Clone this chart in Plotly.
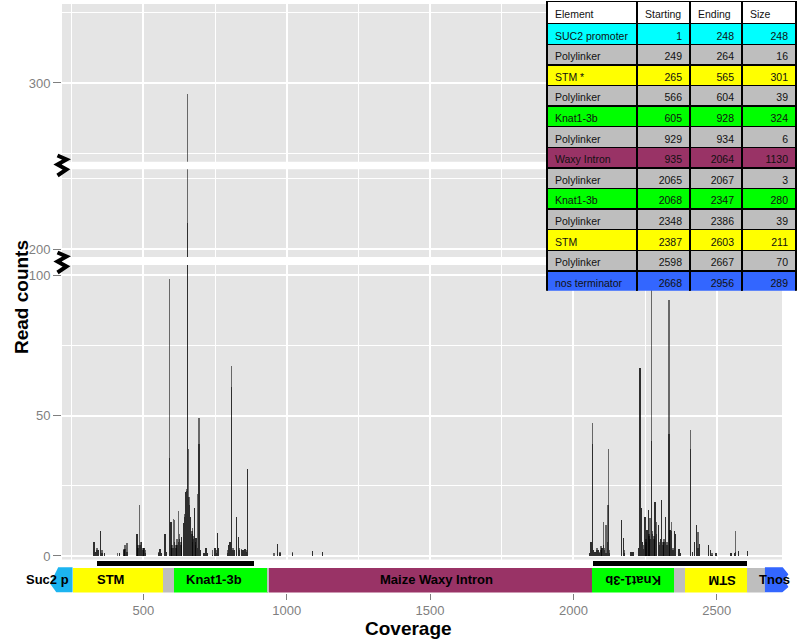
import plotly.graph_objects as go

# ---------------- data ----------------
# coverage (read counts) per position, two overlaid samples
pos_left = [328,333,339,344,350,355,364,410,417,432,436,443,478,482,486,490,494,499,503,508,
            553,558,563,575,580,592,596,600,605,609,614,618,622,627,631,634,640,644,647,650,
            654,658,661,665,669,672,675,678,681,684,688,694,700,712,718,724,742,750,755,759,
            763,794,797,802,807,812,818,825,831,836,842,848,854,859,863,956,968,977,1021,1089,1124]
reads_a_left = [5,1.5,3,2,9,2,1,1,1,2.5,3.8,4.5,7.8,4,18,5,5,3,2.9,2,
                1.5,2.6,1,7.8,1.5,98.6,12.2,4,13,12.8,4,6,16,8,5,6.9,11.7,15,22.9,24,
                296,38,21,13.9,9,10,7,17,5,6.4,22,49,2,1,2.7,1,2,3,2,8.2,
                2.7,2,3.9,5,67.5,3,2,13.9,6.9,3,2.5,2,2.5,2,30.9,1,4.2,1.5,1.5,1.9,1.5]
reads_b_left = [5,1.5,2,2,9,1,1,0,1,2,2.6,1.5,7.8,3,3.8,4,4.9,2,2.9,1,
                1,2.6,1,7.8,1.5,35,12.2,3,3,5,3,4,5,6,4,6.9,11.7,14,22.9,23,
                209,21,18,13.9,8,5,6,17,4,6.4,3,40,2,1,2.7,1,0.5,3,1,8.2,
                2.7,1,3.9,5,60,2,2,13.9,6.9,2,2,2,2.5,1.5,30.9,0,4.2,1,1,1.9,1.5]

pos_right = [2057,2061,2066,2071,2076,2082,2087,2091,2096,2099,2104,2108,2113,2118,2122,2126,2168,2174,2178,2200,
             2205,2210,2228,2232,2238,2241,2244,2250,2253,2256,2261,2264,2267,2272,2276,2281,2285,2290,2296,2300,
             2304,2308,2312,2316,2322,2327,2334,2337,2343,2348,2353,2357,2369,2374,2409,2416,2422,2429,2435,2439,
             2471,2479,2484,2497,2547,2551,2561,2566,2575,2608]
reads_a_right = [1,5,47.2,2,1.5,3,2,1.5,3.6,2.8,12,3,11,18,38,2,12.7,6.4,2,1.5,
                 1.5,1.5,3,67,17,5,4,13.8,6,9.3,16.4,8,13.4,105,9,7,19.3,12,11,5,
                 6,20,5,6,14,5,91,9.3,12,3,9,7.7,2.5,1,45,1.5,5,11,8.4,4.3,
                 4,2,1,1,1,1,1,9,1.6,1.9]
reads_b_right = [1,5,40,2,1.5,2,2,1,2,2.8,4,2,1.2,5,18,1,12.7,6.4,1,1.5,
                 1.5,1.5,3,67,17,5,2.5,13.8,5,9.3,16.4,7,6,41,8,6,19.3,8,11,4,
                 6,20,4,5,14,4,43.4,9.3,9,2,9,7.7,2.5,1,38,1.5,5,11,3,4.3,
                 4,2,0.5,1,1,1,1,1.5,1.6,1.9]

# table of construct elements
elements = ["SUC2 promoter","Polylinker","STM *","Polylinker","Knat1-3b","Polylinker","Waxy Intron",
            "Polylinker","Knat1-3b","Polylinker","STM","Polylinker","nos terminator"]
starting = [1,249,265,566,605,929,935,2065,2068,2348,2387,2598,2668]
ending = [248,264,565,604,928,934,2064,2067,2347,2386,2603,2667,2956]
size = [248,16,301,39,324,6,1130,3,280,39,211,70,289]
row_colors = ["#00FFFF","#BEBEBE","#FFFF00","#BEBEBE","#00FF00","#BEBEBE","#993366",
              "#BEBEBE","#00FF00","#BEBEBE","#FFFF00","#BEBEBE","#3366FF"]

# gene map below the axis
map_start = [253,567,606,934,939,2066,2350,2388,2604]
map_end = [567,606,934,939,2066,2350,2388,2604,2668]
map_colors = ["#FFFF00","#BEBEBE","#00FF00","#BEBEBE","#993366","#00FF00","#BEBEBE","#FFFF00","#BEBEBE"]
suc2_start, suc2_end = 175, 253
tnos_start, tnos_end = 2668, 2750
map_labels = ["Suc2 p","STM","Knat1-3b","Maize Waxy Intron","Knat1-3b","STM","Tnos"]
map_label_x = [167,387,745,1521,2206,2518,2703]
map_label_flip = [False,False,False,False,True,True,False]
probe_start = [339,2069]
probe_end = [886,2604]

x_ticks = [500,1000,1500,2000,2500]
x_minor = [250,750,1250,1750,2250,2750]

# ---------------- layout helpers ----------------
W, H = 797, 641
def fx(px): return px / W
def fy(py): return 1 - py / H

PXU = 0.2867  # pixels per coverage unit
GRID = "#FFFFFF"
PANEL = "#E5E5E5"
TICKC = "#7F7F7F"
FONT = "Liberation Sans, Arial"

fig = go.Figure()

pos = pos_left + pos_right
reads_a = reads_a_left + reads_a_right
reads_b = reads_b_left + reads_b_right

for yax in ["y", "y2", "y3"]:
    for vals in (reads_a, reads_b):
        fig.add_trace(go.Bar(x=pos, y=vals, width=5, xaxis="x", yaxis=yax,
                             marker=dict(color="rgba(0,0,0,0.55)", line=dict(width=0)),
                             showlegend=False, hoverinfo="x+y"))

# gene map blocks
fig.add_trace(go.Bar(orientation="h", base=map_start,
                     x=[e - s for s, e in zip(map_start, map_end)],
                     y=[0.5] * len(map_start), width=1, xaxis="x2", yaxis="y4",
                     marker=dict(color=map_colors, line=dict(width=0)), showlegend=False))
# probe / amplicon bars
fig.add_trace(go.Bar(orientation="h", base=probe_start,
                     x=[e - s for s, e in zip(probe_start, probe_end)],
                     y=[1.19] * len(probe_start), width=0.2, xaxis="x2", yaxis="y4",
                     marker=dict(color="#000000", line=dict(width=0)), showlegend=False))
# Suc2 p arrow-like block
s, e = suc2_start, suc2_end
fig.add_trace(go.Scatter(x=[e, e, s + 28, s + 10, s, s + 22, e],
                         y=[0, 1, 1, 0.62, 0.35, 0, 0], fill="toself", mode="lines",
                         line=dict(width=0), fillcolor="#1CB4F0", xaxis="x2", yaxis="y4",
                         showlegend=False, hoverinfo="skip"))
# Tnos block with notched end
s, e = tnos_start, tnos_end
fig.add_trace(go.Scatter(x=[s, s, e - 20, e, e - 14, e, e - 22, s],
                         y=[0, 1, 1, 0.72, 0.5, 0.22, 0, 0], fill="toself", mode="lines",
                         line=dict(width=0), fillcolor="#3366FF", xaxis="x2", yaxis="y4",
                         showlegend=False, hoverinfo="skip"))

# table
tfont = dict(family=FONT, size=10.5, color="#111111")
fig.add_trace(go.Table(
    domain=dict(x=[fx(547), fx(796)], y=[fy(291), fy(1.7)]),
    columnwidth=[90, 53, 52, 54],
    header=dict(values=["Element", "Starting", "Ending", "Size"],
                fill_color="white", line=dict(color="black", width=1.5),
                align="left", font=tfont, height=22),
    cells=dict(values=[[t.replace(" ", "\u00a0") for t in elements], starting, ending, size],
               fill_color=[row_colors] * 4, line=dict(color="black", width=1.5),
               align=["left", "right", "right", "right"], font=tfont, height=20.6)))

tickfont = dict(family=FONT, size=13, color=TICKC)

def yax(domain, rng, major, minor):
    return dict(domain=domain, range=rng, anchor="x", tickmode="array", tickvals=major,
                ticks="outside", ticklen=8, tickcolor=TICKC, tickwidth=1, tickfont=tickfont,
                showgrid=True, gridcolor=GRID, gridwidth=1.6, zeroline=False, showline=False,
                minor=dict(tickvals=minor, showgrid=True, gridcolor=GRID, gridwidth=0.7, ticks=""),
                automargin=False, fixedrange=True)

fig.update_layout(
    width=W, height=H, margin=dict(l=0, r=0, t=0, b=0),
    paper_bgcolor="white", plot_bgcolor="white", barmode="overlay", bargap=0,
    showlegend=False, template="none",
    xaxis=dict(domain=[fx(62), fx(782)], range=[62 / PXU, 782 / PXU], anchor="y",
               tickmode="array", tickvals=x_ticks, showticklabels=False, ticks="",
               showgrid=True, gridcolor=GRID, gridwidth=1.6, zeroline=False, showline=False,
               minor=dict(tickvals=x_minor, showgrid=True, gridcolor=GRID, gridwidth=0.7, ticks=""),
               automargin=False),
    yaxis=yax([fy(559.5), fy(265)], [-1.25, 103.6], [0, 50, 100], [25, 75]),
    yaxis2=yax([fy(257), fy(169.3)], [197.3, 228.1], [200], [225]),
    yaxis3=yax([fy(161.7), fy(4)], [272, 328.1], [300], [275, 325]),
    xaxis2=dict(domain=[0, 1], range=[0, W / PXU], anchor="y4", tickmode="array",
                tickvals=x_ticks, ticks="outside", ticklen=6, tickcolor=TICKC, tickwidth=1,
                tickfont=tickfont, showgrid=False, zeroline=False, showline=False,
                automargin=False),
    yaxis4=dict(domain=[fy(592.5), fy(559.5)], range=[0, 1.31], anchor="x2",
                showticklabels=False, ticks="", showgrid=False, zeroline=False,
                showline=False, automargin=False),
)

# grey panel backgrounds
for yr in ["y", "y2", "y3"]:
    fig.add_shape(type="rect", xref="x domain", yref=yr + " domain", x0=0, x1=1, y0=0, y1=1,
                  fillcolor=PANEL, line=dict(width=0), layer="below")

# axis-break marks
for cy in [165.5, 262.5]:
    pts = [(57.5, cy - 10), (66.5, cy - 6), (57.5, cy - 1), (66.5, cy + 4), (57.5, cy + 10)]
    path = "M " + " L ".join(f"{fx(px)},{fy(py)}" for px, py in pts)
    fig.add_shape(type="path", xref="paper", yref="paper", path=path,
                  line=dict(color="black", width=4), layer="above")

# map labels
for lab, lx, flip in zip(map_labels, map_label_x, map_label_flip):
    fig.add_annotation(x=lx, y=0.5, xref="x2", yref="y4", text=f"<b>{lab}</b>",
                       showarrow=False, textangle=180 if flip else 0,
                       xanchor="center", yanchor="middle",
                       font=dict(family=FONT, size=13, color="black"))

# axis titles
fig.add_annotation(x=fx(408), y=fy(628), xref="paper", yref="paper", text="<b>Coverage</b>",
                   showarrow=False, xanchor="center", yanchor="middle",
                   font=dict(family=FONT, size=19, color="black"))
fig.add_annotation(x=fx(22), y=fy(297), xref="paper", yref="paper", text="<b>Read counts</b>",
                   showarrow=False, textangle=-90, xanchor="center", yanchor="middle",
                   font=dict(family=FONT, size=19, color="black"))

fig.write_html("out.html", config={"displayModeBar": False},
               post_script="document.body.style.margin='0';")
